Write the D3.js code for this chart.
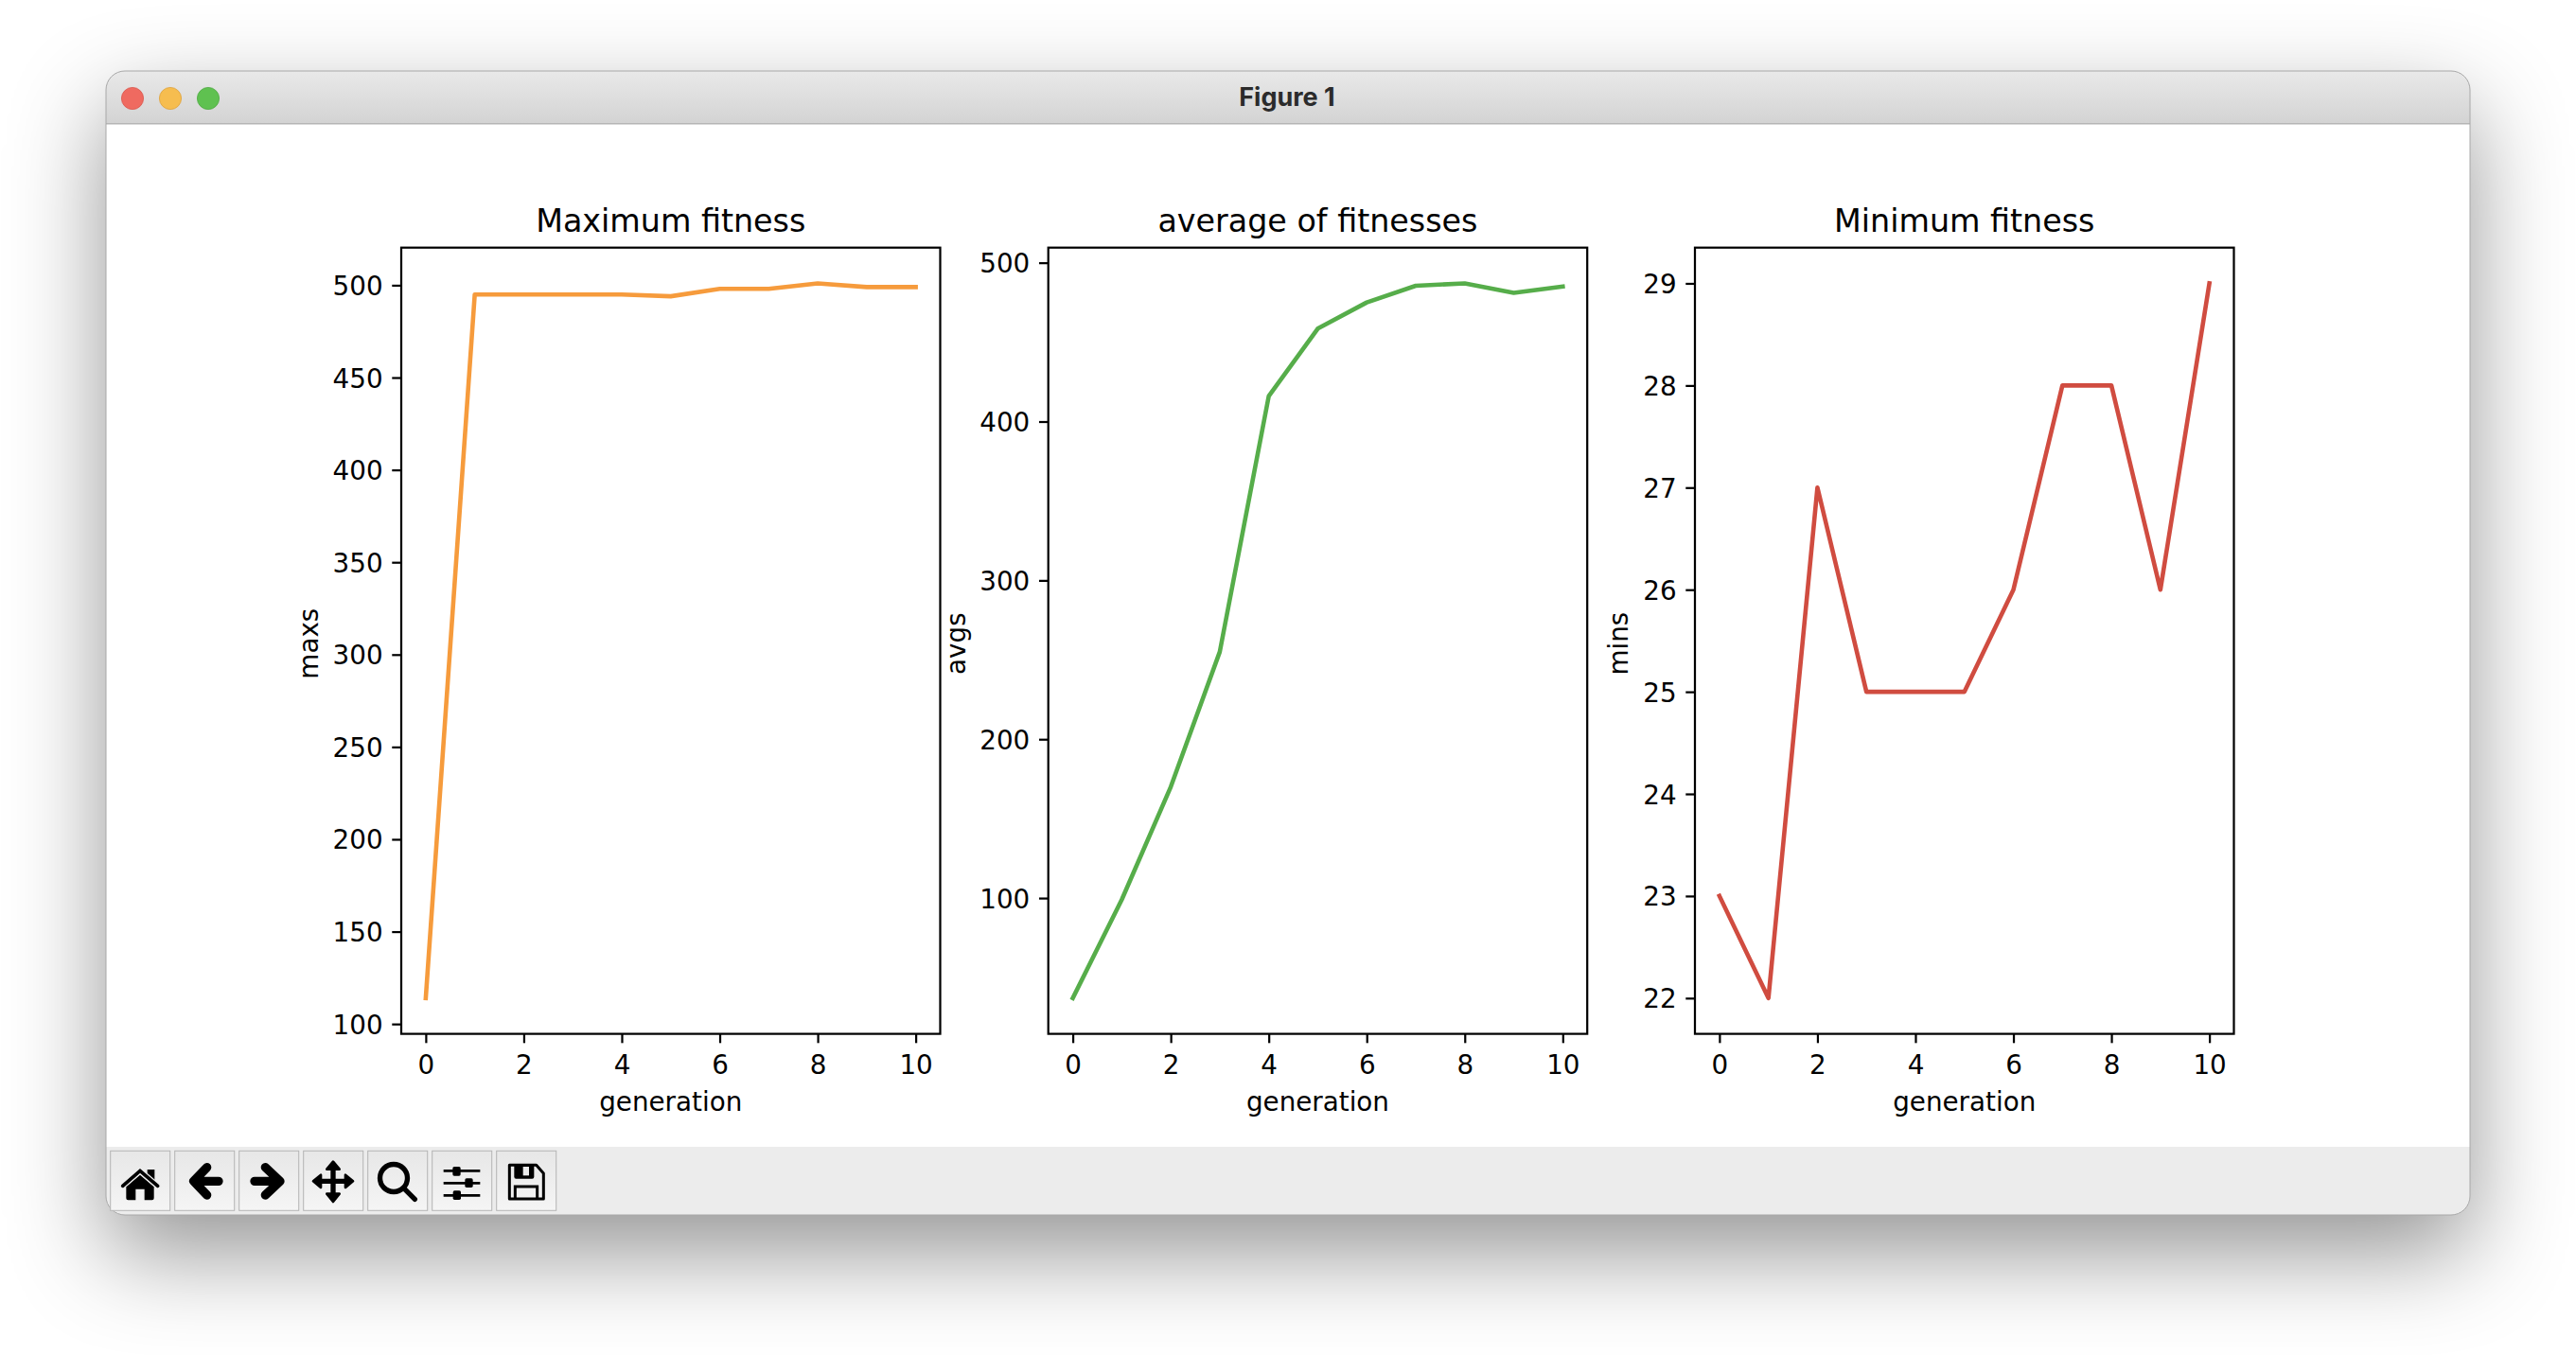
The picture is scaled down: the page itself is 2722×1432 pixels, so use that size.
<!DOCTYPE html>
<html><head><meta charset="utf-8">
<script src="https://cdn.jsdelivr.net/npm/d3@7/dist/d3.min.js"></script>
<style>
html,body{margin:0;padding:0;background:#fff;overflow:hidden}
svg{display:block}
text{font-family:"DejaVu Sans";fill:#000}
</style></head><body>
<svg id="c" width="2722" height="1432" viewBox="0 0 2722 1432"></svg>
<script>
const generations = [0,1,2,3,4,5,6,7,8,9,10];
const maxs = [114,495,495,495,495,494,498,498,501,499,499];
const avgs = [37,99,170,255,416,458.5,475,485.5,487,481,485];
const mins = [23,22,27,25,25,25,26,28,28,26,29];
const xTicks = [0,2,4,6,8,10];
const maxTicks = [100,150,200,250,300,350,400,450,500];
const avgTicks = [100,200,300,400,500];
const minTicks = [22,23,24,25,26,27,28,29];
const titles = ["Maximum fitness","average of fitnesses","Minimum fitness"];
const yLabels = ["maxs","avgs","mins"];
const colors = ["#f69b3c","#56ad4a","#d04c40"];

const svg = d3.select("#c");
const defs = svg.append("defs");
const grad = (id,a,b)=>{const g=defs.append("linearGradient").attr("id",id).attr("x1",0).attr("x2",0).attr("y1",0).attr("y2",1);
  g.append("stop").attr("offset",0).attr("stop-color",a);g.append("stop").attr("offset",1).attr("stop-color",b);};
grad("tb","#e9e9e9","#d3d3d3"); grad("btn","#e7e7e7","#f5f5f5");

// window
const W={x:112,y:75,w:2498,h:1209,r:20};
svg.append("rect").attr("x",W.x).attr("y",W.y).attr("width",W.w).attr("height",W.h).attr("rx",W.r)
  .attr("fill","#fff").style("filter","drop-shadow(0 40px 50px rgba(0,0,0,.42))");
defs.append("clipPath").attr("id","win").append("rect").attr("x",W.x).attr("y",W.y).attr("width",W.w).attr("height",W.h).attr("rx",W.r);
const win=svg.append("g").attr("clip-path","url(#win)");
win.append("rect").attr("x",W.x).attr("y",W.y).attr("width",W.w).attr("height",56).attr("fill","url(#tb)");
win.append("rect").attr("x",W.x).attr("y",130).attr("width",W.w).attr("height",1.5).attr("fill","#b5b5b5");
win.append("rect").attr("x",W.x).attr("y",1212).attr("width",W.w).attr("height",72).attr("fill","#ececec");
svg.append("rect").attr("x",W.x).attr("y",W.y).attr("width",W.w).attr("height",W.h).attr("rx",W.r)
  .attr("fill","none").attr("stroke","#a8a8a8").attr("stroke-width",1);

[[140,"#ef6a60","#d9584e"],[180,"#f6bd4f","#dda23f"],[220,"#5fc150","#4fa943"]].forEach(([x,f,s])=>{
  svg.append("circle").attr("cx",x).attr("cy",104).attr("r",11.6).attr("fill",f).attr("stroke",s).attr("stroke-width",.8);
});
svg.append("text").attr("x",1360).attr("y",111.7).attr("text-anchor","middle")
  .style("font-family","Inter").style("font-weight",700).style("font-size","27px").style("fill","#2b2b2b").text("Figure 1");

// toolbar buttons
d3.range(7).forEach(i=>{
  svg.append("rect").attr("x",116.7+i*68).attr("y",1216.3).attr("width",63).attr("height",63)
    .attr("fill","url(#btn)").attr("stroke","#b4b4b4").attr("stroke-width",1);
});
const a1=svg.append("g").attr("transform","translate(110,1205) scale(0.33333)");
const a2=svg.append("g").attr("transform","translate(370,1205) scale(0.33333)");
// home
a1.append("path").attr("d","M137,93 H160 V130 L137,110 Z").attr("fill","#000");
a1.append("path").attr("d","M70,148 L114,110 L158,148 V184 Q158,190 152,190 H128 V155 H100 V190 H76 Q70,190 70,184 Z").attr("fill","#000");
a1.append("path").attr("d","M59,145 L114,97 L170,145").attr("fill","none").attr("stroke","#ececec").attr("stroke-width",18).attr("stroke-linecap","round");
a1.append("path").attr("d","M59,145 L114,97 L170,145").attr("fill","none").attr("stroke","#000").attr("stroke-width",11).attr("stroke-linecap","round");
// back / forward
const arrow=(d)=>a1.append("path").attr("d",d).attr("fill","none").attr("stroke","#000").attr("stroke-width",28).attr("stroke-linecap","round").attr("stroke-linejoin","round");
arrow("M326,86 L284,130 L326,174 M290,130 H363");
arrow("M511,86 L558,130 L511,174 M552,130 H477");
// move
a1.append("path").attr("d","M726,85 V178 M680,130 H772").attr("stroke","#000").attr("stroke-width",16).attr("fill","none");
a1.append("path").attr("d","M726,68 L746,92 H706 Z M726,195 L746,170 H706 Z M663,130 L687,110 V150 Z M789,130 L765,110 V150 Z").attr("fill","#000").attr("stroke","#000").attr("stroke-width",8).attr("stroke-linejoin","round");
// zoom
a2.append("circle").attr("cx",138).attr("cy",120).attr("r",43.5).attr("fill","none").attr("stroke","#000").attr("stroke-width",16);
a2.append("path").attr("d","M172,154 L205,187").attr("stroke","#000").attr("stroke-width",16).attr("stroke-linecap","round");
// sliders
a2.append("path").attr("d","M296,97 H412 M296,136 H412 M296,175 H412").attr("stroke","#000").attr("stroke-width",8);
[[325,84],[364,121],[326,160]].forEach(([x,y])=>a2.append("rect").attr("x",x).attr("y",y).attr("width",25).attr("height",29).attr("rx",5).attr("fill","#000"));
// save
a2.append("path").attr("d","M505,79 H590 L613,105 V186 H505 Z").attr("fill","none").attr("stroke","#000").attr("stroke-width",9).attr("stroke-linejoin","round");
a2.append("path").attr("d","M520,79 H583 V116 Q583,122 577,122 H526 Q520,122 520,116 Z").attr("fill","#000");
a2.append("rect").attr("x",548).attr("y",84).attr("width",19).attr("height",28).attr("fill","#ececec");
a2.append("path").attr("d","M523,186 V147 H593 V186").attr("fill","none").attr("stroke","#000").attr("stroke-width",9);

// axes
const panels=[
  {left:424, vals:maxs, ticks:maxTicks},
  {left:1107.7, vals:avgs, ticks:avgTicks},
  {left:1791, vals:mins, ticks:minTicks}
];
const AW=569.5, axTop=261.7, axBottom=1092.6, PT=2.778;
const pad=(a)=>{const [lo,hi]=d3.extent(a);const m=(hi-lo)*.05;return [lo-m,hi+m];};
panels.forEach((p,i)=>{
  const g=svg.append("g");
  const x=d3.scaleLinear().domain(pad(generations)).range([p.left,p.left+AW]);
  const y=d3.scaleLinear().domain(pad(p.vals)).range([axBottom,axTop]);
  const xa=g.append("g").attr("transform",`translate(0,${axBottom})`)
    .call(d3.axisBottom(x).tickValues(xTicks).tickSize(3.5*PT).tickPadding(3.5*PT).tickFormat(d3.format("d")));
  const ya=g.append("g").attr("transform",`translate(${p.left},0)`)
    .call(d3.axisLeft(y).tickValues(p.ticks).tickSize(3.5*PT).tickPadding(3.5*PT).tickFormat(d3.format("d")));
  [xa,ya].forEach(a=>{
    a.select(".domain").remove();
    a.selectAll("line").attr("stroke","#000").attr("stroke-width",.8*PT);
    a.selectAll("text").style("font-family","DejaVu Sans").style("font-size",10*PT+"px").attr("fill","#000");
  });
  xa.selectAll("text").attr("dy","0.83em");
  ya.selectAll("text").attr("dy","0.36em");
  g.append("path").datum(p.vals)
    .attr("d",d3.line().x((d,j)=>x(generations[j])).y(d=>y(d)))
    .attr("fill","none").attr("stroke",colors[i]).attr("stroke-width",4.6)
    .attr("stroke-linejoin","round").attr("stroke-linecap","square");
  g.append("rect").attr("x",p.left).attr("y",axTop).attr("width",AW).attr("height",axBottom-axTop)
    .attr("fill","none").attr("stroke","#000").attr("stroke-width",.8*PT);
  g.append("text").attr("x",p.left+AW/2).attr("y",244.7).attr("text-anchor","middle").style("font-size",12*PT+"px").text(titles[i]);
  g.append("text").attr("x",p.left+AW/2).attr("y",1174).attr("text-anchor","middle").style("font-size",10*PT+"px").text("generation");
  const lx=[336,1020,1720][i];
  g.append("text").attr("transform",`translate(${lx},${(axTop+axBottom)/2+3}) rotate(-90)`).attr("text-anchor","middle").style("font-size",10*PT+"px").text(yLabels[i]);
});
</script></body></html>
